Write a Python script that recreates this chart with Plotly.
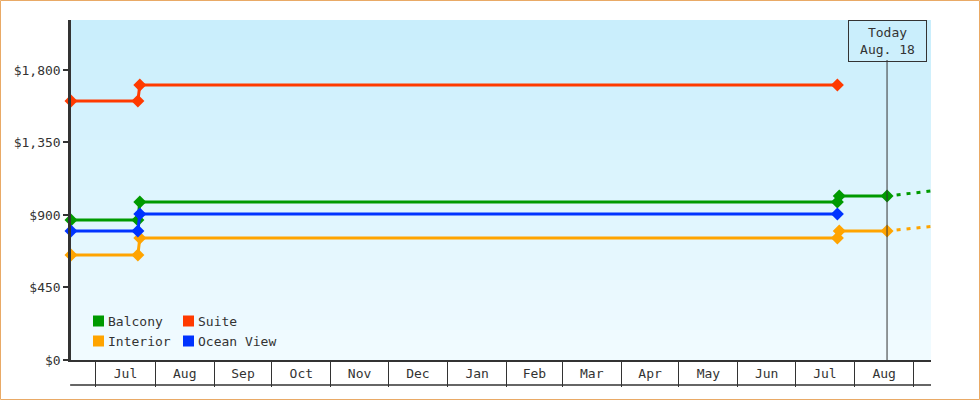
import plotly.graph_objects as go

# DATA
step_dates = ["2023-06-18", "2023-07-23", "2023-07-24", "2024-07-23"]
step_dates_long = step_dates + ["2024-07-24", "2024-08-18"]
balcony = [869, 869, 981, 981, 1018, 1018]
interior = [652, 652, 757, 757, 801, 801]
suite = [1608, 1608, 1707, 1707]
ocean_view = [801, 801, 906, 906]

proj_dates = ["2024-08-23", "2024-09-10"]
balcony_proj = [1024, 1049]
interior_proj = [807, 829]

y_ticks = [0, 450, 900, 1350, 1800]
y_labels = ["$0", "$450", "$900", "$1,350", "$1,800"]
today = "2024-08-18"
today_text = "Today<br>Aug. 18"

GREEN = "#009a00"
RED = "#ff3a00"
ORANGE = "#ffa400"
BLUE = "#0033ff"
DARK = "#333333"
FONT = "DejaVu Sans Mono"

# plot area in pixels: left 71, top 20, width 860, height 340
def px_x(px):
    return (px - 71) / 860


def px_y(py):
    return (360 - py) / 340


fig = go.Figure()


def add_series(name, x, y, color):
    fig.add_trace(go.Scatter(x=x, y=y, mode="lines+markers", name=name, showlegend=False,
                             line=dict(color=color, width=3),
                             marker=dict(symbol="diamond", size=10, color=color),
                             cliponaxis=False))


add_series("Balcony", step_dates_long, balcony, GREEN)
add_series("Interior", step_dates_long, interior, ORANGE)
add_series("Ocean View", step_dates, ocean_view, BLUE)
add_series("Suite", step_dates, suite, RED)

for vals, color in [(balcony_proj, GREEN), (interior_proj, ORANGE)]:
    fig.add_trace(go.Scatter(x=proj_dates, y=vals, mode="lines", showlegend=False,
                             line=dict(color=color, width=3, dash="4px,6px")))

# gradient background made of thin bands
shapes = []
n = 34
top_c = (201, 238, 252)
bot_c = (241, 251, 255)
for i in range(n):
    t = i / (n - 1)
    c = tuple(round(top_c[k] + (bot_c[k] - top_c[k]) * t) for k in range(3))
    shapes.append(dict(type="rect", xref="paper", yref="paper", x0=0, x1=1,
                       y0=1 - (i + 1) / n, y1=1 - i / n, layer="below",
                       fillcolor="rgb(%d,%d,%d)" % c, line=dict(width=0)))

# bottom line of month boxes
shapes.append(dict(type="line", xref="paper", yref="paper", x0=-0.001, x1=1,
                   ysizemode="pixel", yanchor=0, y0=-25, y1=-25,
                   line=dict(color=DARK, width=1.5)))
# today marker line
shapes.append(dict(type="line", xref="x", yref="paper", x0=today, x1=today,
                   y0=0, y1=px_y(60), line=dict(color=DARK, width=1)))
# outer border
shapes.append(dict(type="rect", xref="paper", yref="paper",
                   x0=px_x(0.5), x1=px_x(979.5), y0=px_y(399.5), y1=px_y(0.5),
                   line=dict(color="#e9aa66", width=1)))

# legend: 2x2 grid of square swatches with labels
legend_items = [("Balcony", GREEN), ("Suite", RED), ("Interior", ORANGE), ("Ocean View", BLUE)]
for i, (name, color) in enumerate(legend_items):
    sx = 93 + 90 * (i % 2)
    sy = 315.5 + 20 * (i // 2)
    shapes.append(dict(type="rect", xref="paper", yref="paper",
                       x0=px_x(sx), x1=px_x(sx + 11), y0=px_y(sy + 11), y1=px_y(sy),
                       fillcolor=color, line=dict(width=0)))
    fig.add_annotation(x=px_x(sx + 13), y=px_y(sy + 5.5), xref="paper", yref="paper",
                       xanchor="left", yanchor="middle", text=name, showarrow=False,
                       font=dict(family=FONT, size=13, color=DARK))

fig.add_annotation(x=today, xref="x", y=1, yref="paper", yanchor="top",
                   text=today_text, showarrow=False, align="center",
                   font=dict(family=FONT, size=13, color=DARK),
                   bordercolor=DARK, borderwidth=1, borderpad=2,
                   width=73, height=36, bgcolor="rgba(0,0,0,0)")

fig.update_layout(
    width=980, height=400,
    margin=dict(l=71, r=49, t=20, b=40),
    paper_bgcolor="white",
    plot_bgcolor="rgba(0,0,0,0)",
    font=dict(family=FONT, size=13, color=DARK),
    showlegend=False,
    shapes=shapes,
    xaxis=dict(type="date", range=["2023-06-18", "2024-09-10"], dtick="M1",
               tickformat="%b", ticklabelmode="period", ticks="outside", ticklen=25,
               tickcolor=DARK, tickwidth=1, showgrid=False, zeroline=False,
               showline=True, linecolor=DARK, linewidth=1.5,
               ticklabelstandoff=-24, tickfont=dict(size=13, color=DARK)),
    yaxis=dict(range=[0, 2110], tickvals=y_ticks, ticktext=y_labels,
               ticks="outside", ticklen=5, tickwidth=2, tickcolor=DARK,
               showgrid=False, zeroline=False, showline=True, linecolor=DARK,
               linewidth=2.5, tickfont=dict(size=13, color=DARK)),
)

fig.write_html("out.html", config={"displayModeBar": False},
               post_script="document.body.style.margin='0';")
